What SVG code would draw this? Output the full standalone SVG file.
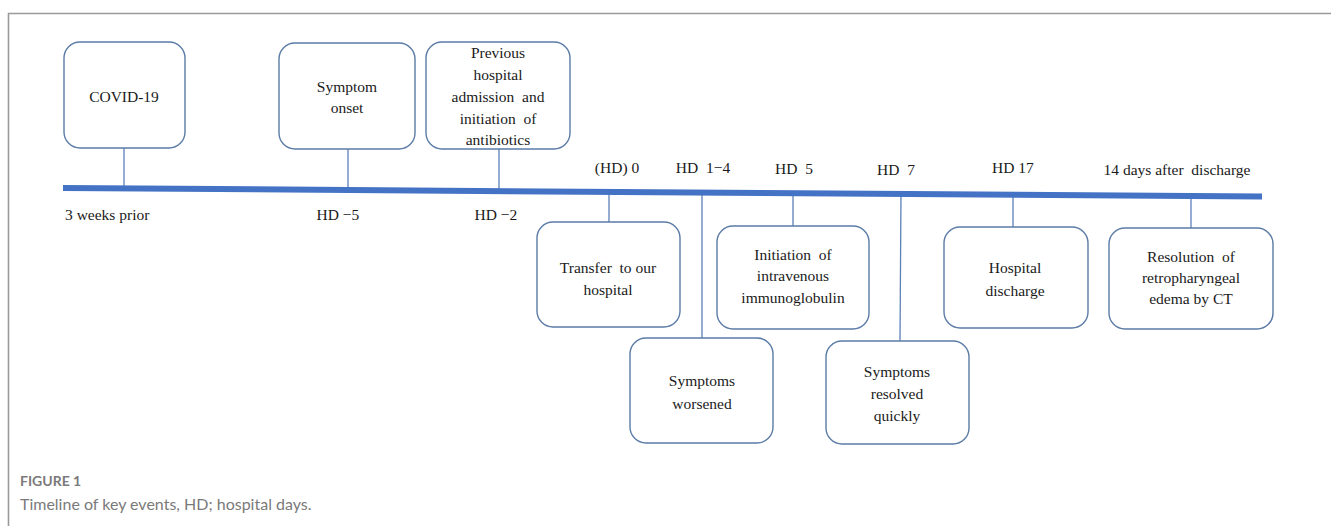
<svg xmlns="http://www.w3.org/2000/svg" width="1331" height="526" viewBox="0 0 1331 526">
<style>
.box{fill:#fff;stroke:#5b7ba6;stroke-width:1.4}
.t{font-size:15.5px;fill:#1a1a1a;text-anchor:middle}
.l{font-size:15.5px;fill:#1a1a1a}
.c{stroke:#5b80b8;stroke-width:1.3;fill:none}
</style>
<rect width="1331" height="526" fill="#fff"/>
<path d="M8.5 526V13.5H1331" fill="none" stroke="#9a9a9a" stroke-width="1.6"/>
<g id="connectors">
<line class="c" x1="124" y1="148" x2="124" y2="187"/>
<line class="c" x1="348" y1="149" x2="348" y2="189"/>
<line class="c" x1="499" y1="149" x2="499" y2="190"/>
<line class="c" x1="609" y1="192" x2="609" y2="222"/>
<line class="c" x1="702" y1="192" x2="702" y2="338"/>
<line class="c" x1="793" y1="193" x2="793" y2="226"/>
<line class="c" x1="901" y1="193" x2="900" y2="341"/>
<line class="c" x1="1013" y1="194" x2="1013" y2="227"/>
<line class="c" x1="1191" y1="195" x2="1191" y2="228"/>
</g>
<g id="timeline">
<path d="M63 188L1262 196.5" stroke="#4472c4" stroke-width="6" fill="none"/>
</g>
<g font-family="Liberation Serif, Tinos, DejaVu Serif, serif">
<g id="labels">
<text class="l" x="65" y="220">3 weeks prior</text>
<text class="t" x="338" y="220">HD −5</text>
<text class="t" x="496" y="220">HD −2</text>
<text class="t" x="617" y="173">(HD) 0</text>
<text class="t" x="703" y="173" xml:space="preserve">HD  1−4</text>
<text class="t" x="794" y="174" xml:space="preserve">HD  5</text>
<text class="t" x="896" y="175" xml:space="preserve">HD  7</text>
<text class="t" x="1013" y="173">HD 17</text>
<text class="t" x="1177" y="175" xml:space="preserve">14 days after  discharge</text>
</g>
<g id="n-covid">
<rect class="box" x="64" y="42" width="121" height="106" rx="16"/>
<text class="t" x="124" y="102">COVID-19</text>
</g>
<g id="n-onset">
<rect class="box" x="279" y="43" width="136" height="106" rx="16"/>
<text class="t" x="347" y="92">Symptom</text>
<text class="t" x="347" y="113">onset</text>
</g>
<g id="n-prev">
<rect class="box" x="426" y="42" width="144" height="107" rx="16"/>
<text class="t" x="498" y="58">Previous</text>
<text class="t" x="498" y="80">hospital</text>
<text class="t" x="498" y="102" xml:space="preserve">admission  and</text>
<text class="t" x="498" y="124" xml:space="preserve">initiation  of</text>
<text class="t" x="498" y="145">antibiotics</text>
</g>
<g id="n-transfer">
<rect class="box" x="537" y="222" width="143" height="105" rx="16"/>
<text class="t" x="608" y="273" xml:space="preserve">Transfer  to our</text>
<text class="t" x="608" y="295">hospital</text>
</g>
<g id="n-worsened">
<rect class="box" x="630" y="338" width="143" height="105" rx="16"/>
<text class="t" x="702" y="386">Symptoms</text>
<text class="t" x="702" y="409">worsened</text>
</g>
<g id="n-ivig">
<rect class="box" x="717" y="226" width="152" height="103" rx="16"/>
<text class="t" x="793" y="260" xml:space="preserve">Initiation  of</text>
<text class="t" x="793" y="281">intravenous</text>
<text class="t" x="793" y="303">immunoglobulin</text>
</g>
<g id="n-resolved">
<rect class="box" x="826" y="341" width="143" height="103" rx="16"/>
<text class="t" x="897" y="377">Symptoms</text>
<text class="t" x="897" y="399">resolved</text>
<text class="t" x="897" y="421">quickly</text>
</g>
<g id="n-discharge">
<rect class="box" x="944" y="227" width="144" height="101" rx="16"/>
<text class="t" x="1015" y="273">Hospital</text>
<text class="t" x="1015" y="296">discharge</text>
</g>
<g id="n-ct">
<rect class="box" x="1109" y="228" width="164" height="101" rx="16"/>
<text class="t" x="1191" y="262" xml:space="preserve">Resolution  of</text>
<text class="t" x="1191" y="283">retropharyngeal</text>
<text class="t" x="1191" y="304">edema by CT</text>
</g>
</g>
<g id="caption">
<text x="20" y="486" font-family="Lato, Open Sans, sans-serif" font-size="14" font-weight="bold" fill="#7a7a7a">FIGURE 1</text>
<text x="20" y="510" font-family="Lato, Open Sans, sans-serif" font-size="16" fill="#7a7a7a">Timeline of key events, HD; hospital days.</text>
</g>
</svg>
